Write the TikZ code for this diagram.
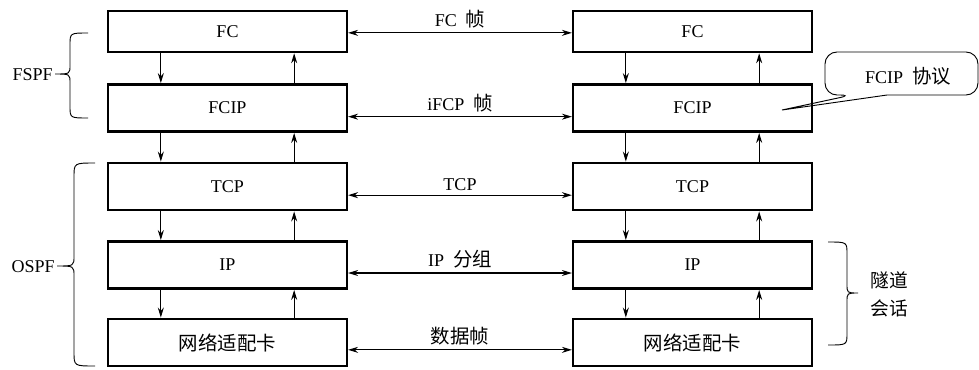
\documentclass[tikz,border=0pt]{standalone}
\usepackage{fontspec}
\setmainfont{Liberation Serif}
\newfontfamily\cjk{Noto Sans CJK SC}[Scale=1.08]
\usepackage{tikz}
\usetikzlibrary{positioning, arrows.meta}

\begin{document}
\begin{tikzpicture}[x=0.75pt, y=-0.75pt, font=\fontsize{13.5}{16}\selectfont,
		layer/.style={draw, line width=1.9pt, minimum width=179pt, minimum height=35.5pt, inner sep=0pt},
		flow/.style={-{Stealth[length=7.5pt, width=4.5pt]}, line width=0.8pt},
		link/.style={{Stealth[length=7.5pt, width=4.5pt]}-{Stealth[length=7.5pt, width=4.5pt]}, line width=0.8pt}]
			\useasboundingbox	(0, 0) rectangle (979, 369);
			% left stack
			\node	(FCl)	at	(227.5, 31.5)	[layer, minimum height=30.75pt]	{FC};
			\node	(FCIPl)	at	(227.5, 108)	[layer]	{FCIP};
			\node	(TCPl)	at	(227.5, 186.5)	[layer]	{TCP};
			\node	(IPl)	at	(227.5, 265)	[layer]	{IP};
			\node	(NICl)	at	(227.5, 342.5)	[layer]	{\cjk 网络适配卡};
			% right stack
			\node	(FCr)	at	(692.5, 31.5)	[layer, minimum height=30.75pt]	{FC};
			\node	(FCIPr)	at	(692.5, 108)	[layer]	{FCIP};
			\node	(TCPr)	at	(692.5, 186.5)	[layer]	{TCP};
			\node	(IPr)	at	(692.5, 265)	[layer]	{IP};
			\node	(NICr)	at	(692.5, 342.5)	[layer]	{\cjk 网络适配卡};
			% peer links
			\draw	[link]	([yshift=-1pt]FCl.east)	--	([yshift=-1pt]FCr.west)	node[midway, above]{FC\enspace{\cjk 帧}};
			\draw	[link]	([yshift=-6.5pt]FCIPl.east)	--	([yshift=-6.5pt]FCIPr.west)	node[midway, above]{iFCP\enspace{\cjk 帧}};
			\draw	[link]	([yshift=-6.5pt]TCPl.east)	--	([yshift=-6.5pt]TCPr.west)	node[midway, above]{TCP};
			\draw	[link]	([yshift=-6pt]IPl.east)	--	([yshift=-6pt]IPr.west)	node[midway, above]{IP\enspace{\cjk 分组}};
			\draw	[link]	([yshift=-5.5pt]NICl.east)	--	([yshift=-5.5pt]NICr.west)	node[midway, above]{\cjk 数据帧};
			% down and up, left
			\draw	[flow]	([xshift=-50pt]FCl.south)	--	([xshift=-50pt]FCIPl.north);
			\draw	[flow]	([xshift=50pt]FCIPl.north)	--	([xshift=50pt]FCl.south);
			\draw	[flow]	([xshift=-50pt]FCIPl.south)	--	([xshift=-50pt]TCPl.north);
			\draw	[flow]	([xshift=50pt]TCPl.north)	--	([xshift=50pt]FCIPl.south);
			\draw	[flow]	([xshift=-50pt]TCPl.south)	--	([xshift=-50pt]IPl.north);
			\draw	[flow]	([xshift=50pt]IPl.north)	--	([xshift=50pt]TCPl.south);
			\draw	[flow]	([xshift=-50pt]IPl.south)	--	([xshift=-50pt]NICl.north);
			\draw	[flow]	([xshift=50pt]NICl.north)	--	([xshift=50pt]IPl.south);
			% down and up, right
			\draw	[flow]	([xshift=-50pt]FCr.south)	--	([xshift=-50pt]FCIPr.north);
			\draw	[flow]	([xshift=50pt]FCIPr.north)	--	([xshift=50pt]FCr.south);
			\draw	[flow]	([xshift=-50pt]FCIPr.south)	--	([xshift=-50pt]TCPr.north);
			\draw	[flow]	([xshift=50pt]TCPr.north)	--	([xshift=50pt]FCIPr.south);
			\draw	[flow]	([xshift=-50pt]TCPr.south)	--	([xshift=-50pt]IPr.north);
			\draw	[flow]	([xshift=50pt]IPr.north)	--	([xshift=50pt]TCPr.south);
			\draw	[flow]	([xshift=-50pt]IPr.south)	--	([xshift=-50pt]NICr.north);
			\draw	[flow]	([xshift=50pt]NICr.north)	--	([xshift=50pt]IPr.south);
			% braces
			\draw	[line width=0.7pt]	(88, 33) .. controls (70, 33) .. (70, 45) -- (70, 65) .. controls (70, 74) .. (55, 74)
					.. controls (70, 74) .. (70, 83) -- (70, 106) .. controls (70, 118) .. (88, 118);
			\node	(FSPF)	at	(55, 75)	[left, inner sep=1.5pt]	{FSPF};
			\draw	[line width=0.7pt]	(95, 163) .. controls (74, 163) .. (74, 177) -- (74, 256) .. controls (74, 266) .. (57, 266)
					.. controls (74, 266) .. (74, 276) -- (74, 352) .. controls (74, 366) .. (95, 366);
			\node	(OSPF)	at	(57, 267)	[left, inner sep=1.5pt]	{OSPF};
			\draw	[line width=0.7pt]	(828, 242) .. controls (847, 242) .. (847, 254) -- (847, 284) .. controls (847, 293) .. (858, 293)
					.. controls (847, 293) .. (847, 302) -- (847, 333) .. controls (847, 345) .. (828, 345);
			\node	(tunnel)	at	(889, 294)	[align=center, font=\cjk\fontsize{13}{21}\selectfont]	{隧道\\会话};
			% callout
			\draw	[line width=0.7pt]	(782, 110) -- (887, 95) [rounded corners=9pt] -- (978, 95) -- (978, 52) -- (825, 52) -- (825, 95) -- (852, 95) [sharp corners] -- cycle;
			\node	(proto)	at	(908, 76)	{FCIP\enspace{\cjk 协议}};
		\end{tikzpicture}
\end{document}
